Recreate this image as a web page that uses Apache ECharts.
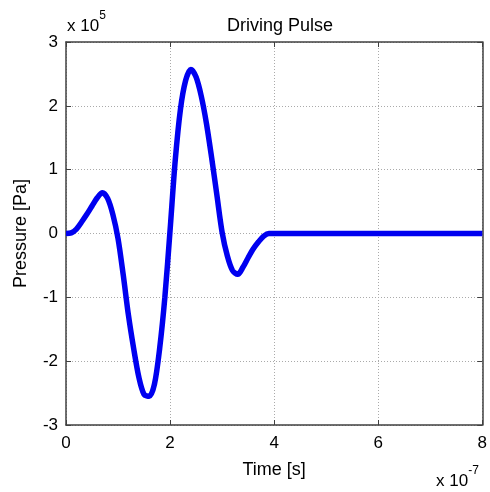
<!DOCTYPE html>
<html>
<head>
<meta charset="utf-8">
<script src="https://cdn.jsdelivr.net/npm/echarts@6/dist/echarts.min.js"></script>
<style>
  html, body { margin: 0; padding: 0; background: #fff; }
  #chart { width: 490px; height: 492px; }
</style>
</head>
<body>
<div id="chart"></div>
<script>
// time in units of 1e-7 s, pressure in units of 1e5 Pa
const timeVals = [
  0.0, 0.1, 0.2, 0.3, 0.4, 0.5, 0.6, 0.7, 0.8, 0.9,
  1.0, 1.1, 1.2, 1.3, 1.4, 1.5, 1.6, 1.7, 1.8, 1.9,
  2.0, 2.1, 2.2, 2.3, 2.4, 2.5, 2.6, 2.7, 2.8, 2.9,
  3.0, 3.1, 3.2, 3.3, 3.4, 3.5, 3.6, 3.7, 3.8, 3.9,
  4.0, 5.0, 6.0, 7.0, 8.0
]
const pressureVals = [
  0.00, 0.01, 0.07, 0.18, 0.30, 0.43, 0.56, 0.64, 0.55, 0.30,
  -0.08, -0.65, -1.28, -1.80, -2.25, -2.52, -2.55, -2.36, -1.80, -1.00,
  0.05, 1.15, 1.95, 2.40, 2.57, 2.45, 2.15, 1.72, 1.18, 0.60,
  0.02, -0.35, -0.58, -0.64, -0.53, -0.38, -0.24, -0.13, -0.04, 0.00,
  0.00, 0.00, 0.00, 0.00, 0.00
]
const xTicks = [0, 2, 4, 6, 8]
const yTicks = [-3, -2, -1, 0, 1, 2, 3]

const chart = echarts.init(document.getElementById('chart'))
const font = 'Liberation Sans, Arial, sans-serif'
const frame = '#404040'

chart.setOption({
  animation: false,
  backgroundColor: '#fff',
  title: {
    text: 'Driving Pulse',
    left: 275,
    top: 12,
    textAlign: 'center',
    textStyle: { fontFamily: font, fontSize: 18, fontWeight: 'normal', color: '#000' }
  },
  grid: { left: 66, right: 6, top: 42, bottom: 67 },
  xAxis: [
    {
      type: 'value',
      min: xTicks[0],
      max: xTicks[xTicks.length - 1],
      interval: 2,
      name: 'Time [s]',
      nameLocation: 'middle',
      nameGap: 36,
      nameTextStyle: { fontFamily: font, fontSize: 18, color: '#000' },
      axisLine: { onZero: false, lineStyle: { color: frame, width: 1.5 } },
      axisTick: { inside: true, length: 5, lineStyle: { color: frame } },
      axisLabel: { fontFamily: font, fontSize: 17, color: '#000', margin: 10 },
      splitLine: { show: true, lineStyle: { color: '#aaa', type: [1, 2], width: 1 } }
    },
    {
      type: 'value',
      position: 'top',
      min: 0, max: 8, interval: 2,
      axisLine: { show: true, onZero: false, lineStyle: { color: frame, width: 1.5 } },
      axisTick: { inside: true, length: 5, lineStyle: { color: frame } },
      axisLabel: { show: false },
      splitLine: { show: false }
    }
  ],
  yAxis: [
    {
      type: 'value',
      min: yTicks[0],
      max: yTicks[yTicks.length - 1],
      interval: 1,
      name: 'Pressure [Pa]',
      nameLocation: 'middle',
      nameGap: 36,
      nameTextStyle: { fontFamily: font, fontSize: 18, color: '#000' },
      axisLine: { show: true, onZero: false, lineStyle: { color: frame, width: 1.5 } },
      axisTick: { show: true, inside: true, length: 5, lineStyle: { color: frame } },
      axisLabel: { fontFamily: font, fontSize: 17, color: '#000', margin: 8 },
      splitLine: { show: true, lineStyle: { color: '#aaa', type: [1, 2], width: 1 } }
    },
    {
      type: 'value',
      position: 'right',
      min: -3, max: 3, interval: 1,
      axisLine: { show: true, onZero: false, lineStyle: { color: frame, width: 1.5 } },
      axisTick: { show: true, inside: true, length: 5, lineStyle: { color: frame } },
      axisLabel: { show: false },
      splitLine: { show: false }
    }
  ],
  graphic: [
    {
      type: 'text',
      left: 67,
      top: 10,
      style: {
        text: '{b|x 10}{s|5}',
        rich: {
          b: { fontFamily: font, fontSize: 17, color: '#000', padding: [8, 0, 0, 0] },
          s: { fontFamily: font, fontSize: 12, color: '#000', verticalAlign: 'top' }
        }
      }
    },
    {
      type: 'text',
      left: 436,
      top: 465,
      style: {
        text: '{b|x 10}{s|-7}',
        rich: {
          b: { fontFamily: font, fontSize: 17, color: '#000', padding: [8, 0, 0, 0] },
          s: { fontFamily: font, fontSize: 12, color: '#000', verticalAlign: 'top' }
        }
      }
    }
  ],
  series: [
    {
      type: 'line',
      data: timeVals.map((t, i) => [t, pressureVals[i]]),
      showSymbol: false,
      smooth: 0.3,
      lineStyle: { color: '#0000f0', width: 5.5 },
      itemStyle: { color: '#0000f0' }
    }
  ]
})
</script>
</body>
</html>
